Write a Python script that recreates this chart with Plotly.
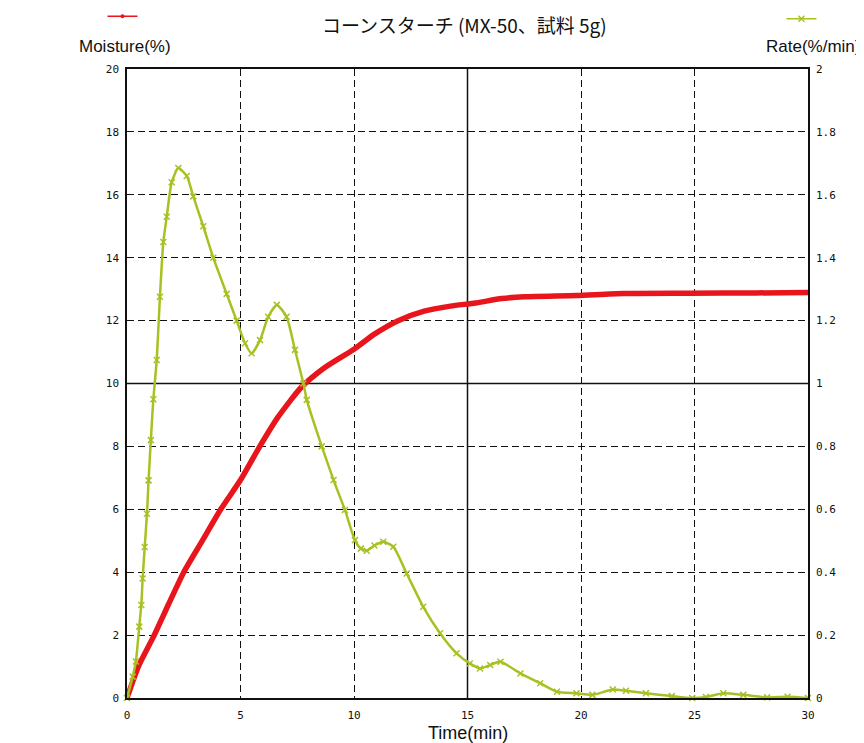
import plotly.graph_objects as go

# Moisture (%) vs time (min)
moist_t = [0, 0.5, 1.2, 1.83, 2.5, 3.3, 4.13, 5.0, 5.85, 6.65, 7.68, 8.7, 10.0,
           10.9, 11.92, 13.09, 14.25, 15.35, 16.5, 17.5, 19.8, 21.86, 24.78, 27.7, 30]
moist_v = [0, 1.0, 2.0, 2.98, 4.0, 4.98, 6.0, 6.93, 8.0, 8.93, 9.88, 10.5, 11.09,
           11.57, 11.99, 12.3, 12.46, 12.56, 12.7, 12.76, 12.8, 12.86, 12.87, 12.88, 12.89]

# Rate (%/min) vs time (min)
rate_t = [0, 0.25, 0.39, 0.54, 0.63, 0.69, 0.78, 0.88, 0.95, 1.05, 1.16, 1.31, 1.45, 1.6,
          1.75, 1.97, 2.26, 2.63, 2.92, 3.36, 3.8, 4.39, 4.83, 5.2, 5.49, 5.86, 6.22, 6.6,
          7.03, 7.4, 7.77, 7.92, 8.58, 9.1, 9.6, 10.04, 10.3, 10.56, 10.9, 11.29, 11.73,
          12.32, 13.05, 13.79, 14.52, 15.1, 15.55, 16.0, 16.45, 17.33, 18.2, 18.94, 19.8,
          20.5, 21.4, 21.98, 22.86, 24.0, 24.9, 25.5, 26.27, 27.15, 28.2, 29.1, 30]
rate_v = [0, 0.068, 0.116, 0.227, 0.296, 0.38, 0.48, 0.586, 0.692, 0.82, 0.95, 1.075,
          1.276, 1.45, 1.53, 1.64, 1.685, 1.66, 1.595, 1.5, 1.4, 1.285, 1.2, 1.128,
          1.096, 1.138, 1.212, 1.25, 1.212, 1.107, 1.0, 0.948, 0.8, 0.693, 0.598, 0.502,
          0.475, 0.468, 0.485, 0.497, 0.481, 0.396, 0.29, 0.206, 0.142, 0.11, 0.094,
          0.105, 0.115, 0.078, 0.047, 0.02, 0.015, 0.01, 0.027, 0.023, 0.015, 0.006,
          0.0, 0.003, 0.015, 0.01, 0.002, 0.004, 0.0]

x_ticks = [0, 5, 10, 15, 20, 25, 30]
title_text = "コーンスターチ (MX-50、試料 5g)"

RED = "#e8161c"
GREEN = "#a9c023"

fig = go.Figure()
fig.add_trace(go.Scatter(
    x=moist_t, y=moist_v, mode="lines", showlegend=False,
    line=dict(color=RED, width=5.5, shape="spline", smoothing=0.6), yaxis="y"))
fig.add_trace(go.Scatter(
    x=rate_t, y=rate_v, mode="lines+markers", showlegend=False, cliponaxis=False,
    line=dict(color=GREEN, width=2.5, shape="spline", smoothing=0.6),
    marker=dict(color=GREEN, size=6, symbol="x-thin", line=dict(color=GREEN, width=1.5)),
    yaxis="y2"))
# legend samples (no data)
fig.add_trace(go.Scatter(
    x=[None], y=[None], name=" ", mode="lines+markers", legend="legend",
    line=dict(color=RED, width=1.5), marker=dict(color=RED, size=4, symbol="circle")))
fig.add_trace(go.Scatter(
    x=[None], y=[None], name=" ", mode="lines+markers", legend="legend2", yaxis="y2",
    line=dict(color=GREEN, width=1.5),
    marker=dict(color=GREEN, size=6, symbol="x-thin", line=dict(color=GREEN, width=1.5))))

tickfont = dict(family="DejaVu Sans Mono", size=11, color="#111")
grid = dict(showgrid=True, gridcolor="#111", gridwidth=1.3, griddash="7px,4px",
            showline=True, linecolor="#111", linewidth=1.5, zeroline=False, ticks="")

fig.update_layout(
    width=856, height=735,
    margin=dict(l=119, r=56, t=61, b=45, autoexpand=False),
    paper_bgcolor="white", plot_bgcolor="white",
    showlegend=True,
    xaxis=dict(range=[0, 30], tickvals=x_ticks, mirror=True, tickfont=tickfont,
               ticklabelstandoff=6, **grid),
    yaxis=dict(range=[0, 20], dtick=2, tickfont=tickfont, ticklabelstandoff=4, **grid),
    yaxis2=dict(range=[0, 2], dtick=0.2, overlaying="y", side="right", showgrid=False,
                showline=True, linecolor="#111", linewidth=1.5, zeroline=False,
                tickfont=tickfont, ticklabelstandoff=4, ticks=""),
    legend=dict(x=-0.036, y=1.084, xanchor="left", yanchor="middle",
                bgcolor="rgba(0,0,0,0)", font=dict(size=10)),
    legend2=dict(x=0.961, y=1.08, xanchor="left", yanchor="middle",
                 bgcolor="rgba(0,0,0,0)", font=dict(size=10)),
    font=dict(family="Liberation Sans", color="#111"),
    shapes=[
        dict(type="line", xref="x", yref="paper", x0=15, x1=15, y0=0, y1=1,
             line=dict(color="#111", width=1.5), layer="below"),
        dict(type="line", xref="paper", yref="y", x0=0, x1=1, y0=10, y1=10,
             line=dict(color="#111", width=1.5), layer="below"),
    ],
    annotations=[
        dict(text=title_text, xref="paper", yref="paper", x=0.495, y=1.071,
             xanchor="center", yanchor="middle", showarrow=False,
             font=dict(family="Noto Sans CJK JP", size=19, color="#111")),
        dict(text="Moisture(%)", xref="paper", yref="paper", x=-0.073, y=1.035,
             xanchor="left", yanchor="middle", showarrow=False,
             font=dict(family="Liberation Sans", size=17, color="#111")),
        dict(text="Rate(%/min)", xref="paper", yref="paper", x=1.08, y=1.035,
             xanchor="right", yanchor="middle", showarrow=False,
             font=dict(family="Liberation Sans", size=17, color="#111")),
        dict(text="Time(min)", xref="paper", yref="paper", x=0.5, y=-0.056,
             xanchor="center", yanchor="middle", showarrow=False,
             font=dict(family="Liberation Sans", size=18, color="#111")),
    ],
)

fig.write_html("out.html")
